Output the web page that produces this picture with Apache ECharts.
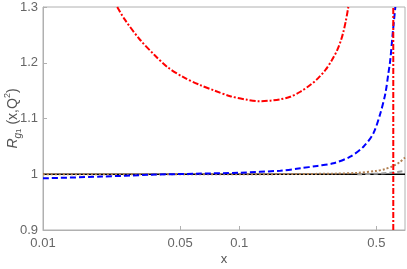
<!DOCTYPE html>
<html><head><meta charset="utf-8">
<script src="https://cdn.jsdelivr.net/npm/echarts@6/dist/echarts.min.js"></script>
<style>html,body{margin:0;padding:0;background:#fff}#c{width:407px;height:269px}</style>
</head><body><div id="c"></div>
<script>
const xTicks = [0.01, 0.05, 0.1, 0.5];
const yTicks = [0.9, 1, 1.1, 1.2, 1.3];
const blackX = [0.01, 0.7];
const blackY = [1, 1];
const blueX = [0.01, 0.02, 0.035, 0.06, 0.1, 0.162, 0.205, 0.25, 0.302, 0.368, 0.43, 0.483, 0.524, 0.556, 0.576, 0.589, 0.605, 0.625];
const blueY = [0.9927, 0.9958, 0.999, 1.001, 1.0028, 1.0064, 1.0107, 1.015, 1.0196, 1.0315, 1.0494, 1.0735, 1.109, 1.145, 1.181, 1.205, 1.25, 1.3];
const redX = [0.0239, 0.0262, 0.0313, 0.037, 0.043, 0.052, 0.0632, 0.075, 0.09, 0.110, 0.126, 0.144, 0.162, 0.182, 0.205, 0.230, 0.252, 0.275, 0.296, 0.316, 0.330, 0.340, 0.350, 0.360];
const redY = [1.30, 1.2768, 1.2408, 1.214, 1.1924, 1.174, 1.160, 1.150, 1.140, 1.1335, 1.131, 1.132, 1.1345, 1.139, 1.148, 1.160, 1.172, 1.187, 1.204, 1.2228, 1.240, 1.256, 1.276, 1.30];
const vlineX = [0.61, 0.61];
const vlineY = [0.9, 1.3];
const brownX = [0.01, 0.1, 0.2, 0.3, 0.4, 0.5, 0.55, 0.61, 0.66, 0.7];
const brownY = [1.0, 1.0, 1.0005, 1.001, 1.0025, 1.006, 1.009, 1.015, 1.022, 1.03];
const grayX = [0.4, 0.5, 0.6, 0.7];
const grayY = [1.0, 1.001, 1.003, 1.006];

const L = v => Math.log10(v);
const pts = (xs, ys) => xs.map((x, i) => [L(x), ys[i]]);
const lab = {color: '#666', fontSize: 13, fontFamily: 'Liberation Sans'};
const nm = {color: '#555', fontFamily: 'Liberation Sans'};

const chart = echarts.init(document.getElementById('c'), null, {renderer: 'canvas'});
chart.setOption({
  animation: false,
  grid: {left: 43, right: 2, top: 7, bottom: 39, outerBoundsMode: 'none', containLabel: false, show: true, borderColor: '#b0b0b0', borderWidth: 1},
  xAxis: {
    type: 'value', min: L(0.01), max: L(0.7),
    name: 'x', nameLocation: 'middle', nameGap: 23, nameMoveOverlap: false,
    nameTextStyle: {color: '#555', fontSize: 13, fontFamily: 'Liberation Sans'},
    axisLine: {lineStyle: {color: '#b0b0b0'}},
    axisTick: {inside: true, length: 4, lineStyle: {color: '#b0b0b0'}, customValues: xTicks.map(L)},
    axisLabel: Object.assign({customValues: xTicks.map(L), margin: 7,
      formatter: v => { const r = Math.pow(10, v); return String(parseFloat(r.toPrecision(3))); }}, lab),
    splitLine: {show: false}
  },
  yAxis: {
    type: 'value', min: 0.9, max: 1.3,
    name: '{r|R}{sub|g}{sub2|1}{n| (x,Q}{sup|2}{n|)}', nameLocation: 'middle', nameGap: 20, nameRotate: 90, nameMoveOverlap: false,
    nameTextStyle: Object.assign({rich: {
      r: Object.assign({fontSize: 14, fontStyle: 'italic', lineHeight: 20, verticalAlign: 'middle'}, nm),
      sub: Object.assign({fontSize: 10, fontStyle: 'italic', verticalAlign: 'bottom', lineHeight: 20}, nm),
      sub2: Object.assign({fontSize: 8, verticalAlign: 'bottom', lineHeight: 18}, nm),
      n: Object.assign({fontSize: 14, lineHeight: 20, verticalAlign: 'middle'}, nm),
      sup: Object.assign({fontSize: 9, verticalAlign: 'top', lineHeight: 20}, nm)
    }}, nm),
    axisLine: {show: true, lineStyle: {color: '#b0b0b0'}},
    axisTick: {show: true, inside: true, length: 4, lineStyle: {color: '#b0b0b0'}, customValues: yTicks},
    axisLabel: Object.assign({customValues: yTicks, margin: 5, formatter: v => String(parseFloat(v.toFixed(2)))}, lab),
    splitLine: {show: false}
  },
  series: [
    {type: 'line', data: pts(blackX, blackY), symbol: 'none', lineStyle: {color: '#000', width: 1.5}, z: 2},
    {type: 'line', data: pts(grayX, grayY), symbol: 'none', smooth: 0.3, lineStyle: {color: '#999', width: 2, type: [5, 3]}, z: 3},
    {type: 'line', data: pts(brownX, brownY), symbol: 'none', smooth: 0.3, lineStyle: {color: '#b07f50', width: 2, type: [2, 2]}, z: 4},
    {type: 'line', data: pts(blueX, blueY), symbol: 'none', smooth: 0.3, lineStyle: {color: '#0000ff', width: 2, type: [6, 3]}, z: 5},
    {type: 'line', data: pts(redX, redY), symbol: 'none', smooth: 0.3, lineStyle: {color: '#ff0000', width: 2, type: [6, 2, 2, 2]}, z: 6},
    {type: 'line', data: pts(vlineX, vlineY), symbol: 'none', lineStyle: {color: '#ff0000', width: 2, type: [6, 2, 2, 2]}, z: 6}
  ]
});
</script></body></html>
